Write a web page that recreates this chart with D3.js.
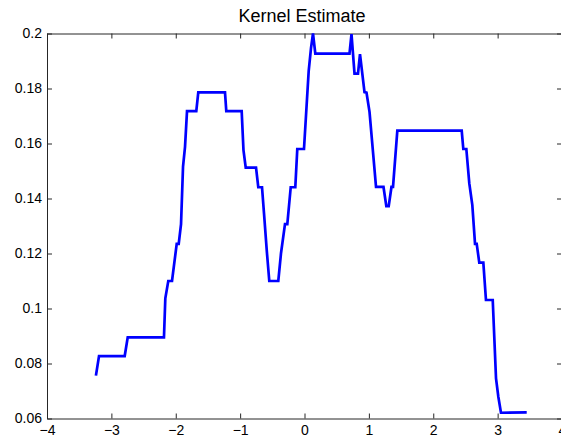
<!DOCTYPE html>
<html>
<head>
<meta charset="utf-8">
<script src="https://cdn.jsdelivr.net/npm/d3@7"></script>
<style>
  body { margin: 0; background: #fff; }
  svg { display: block; font-family: "Liberation Sans", Arial, sans-serif; }
</style>
</head>
<body>
<div id="graph"></div>
<script>
// kernel estimate curve
const xs = [-3.24, -3.192, -2.793, -2.746, -2.183, -2.162, -2.116, -2.058, -1.985, -1.954,
            -1.918, -1.887, -1.856, -1.825, -1.681, -1.650, -1.235, -1.215, -0.976, -0.948,
            -0.913, -0.753, -0.718, -0.660, -0.629, -0.587, -0.547, -0.407, -0.365, -0.303,
            -0.267, -0.214, -0.143, -0.112, -0.008, 0.065, 0.101, 0.132, 0.168, 0.699,
            0.730, 0.777, 0.831, 0.862, 0.932, 0.963, 1.010, 1.111, 1.227, 1.271,
            1.308, 1.351, 1.375, 1.442, 2.442, 2.467, 2.514, 2.560, 2.607, 2.649,
            2.675, 2.715, 2.778, 2.819, 2.924, 2.975, 3.011, 3.052, 3.452];
const ys = [0.0756, 0.0827, 0.0827, 0.0895, 0.0895, 0.1037, 0.1100, 0.1100, 0.1235, 0.1235,
            0.1307, 0.1516, 0.1588, 0.1718, 0.1718, 0.1786, 0.1786, 0.1718, 0.1718, 0.1576,
            0.1512, 0.1512, 0.1441, 0.1441, 0.1346, 0.1213, 0.1100, 0.1100, 0.1201, 0.1307,
            0.1307, 0.1441, 0.1441, 0.1580, 0.1580, 0.1863, 0.1947, 0.2000, 0.1927, 0.1927,
            0.1998, 0.1854, 0.1854, 0.1925, 0.1787, 0.1785, 0.1715, 0.1442, 0.1442, 0.1372,
            0.1372, 0.1442, 0.1442, 0.1647, 0.1647, 0.1580, 0.1580, 0.1455, 0.1376, 0.1235,
            0.1235, 0.1167, 0.1167, 0.1031, 0.1031, 0.0746, 0.0679, 0.0621, 0.0622];

const xTicks = [-4, -3, -2, -1, 0, 1, 2, 3, 4];
const yTicks = [0.06, 0.08, 0.1, 0.12, 0.14, 0.16, 0.18, 0.2];
const yTickLabels = ["0.06", "0.08", "0.1", "0.12", "0.14", "0.16", "0.18", "0.2"];
const title = "Kernel Estimate";

const width = 561;
const height = 441;
const marginLeft = 47;
const marginRight = -1;
const marginTop = 33.5;
const marginBottom = 22.5;

const points = xs.map((x, i) => ({x: x, y: ys[i]}));

const xScale = d3.scaleLinear()
                 .domain([-4, 4])
                 .range([marginLeft, width - marginRight]);

const yScale = d3.scaleLinear()
                 .domain([0.06, 0.2])
                 .range([height - marginBottom, marginTop]);

const svg = d3.create("svg")
              .attr("width", width)
              .attr("height", height);

const axisColor = "#262626";

//bottom axis
svg.append("g")
   .attr("transform", `translate(0, ${height - marginBottom})`)
   .call(d3.axisBottom(xScale).tickValues(xTicks).tickSizeInner(-5).tickSizeOuter(0).tickPadding(7))
   .call(g => g.selectAll("text").attr("font-size", 14).attr("fill", "#000"));

//top axis
svg.append("g")
   .attr("transform", `translate(0, ${marginTop})`)
   .call(d3.axisTop(xScale).tickValues(xTicks).tickSizeInner(-5).tickSizeOuter(0).tickFormat(""));

//left axis
svg.append("g")
   .attr("transform", `translate(${marginLeft}, 0)`)
   .call(d3.axisLeft(yScale).tickValues(yTicks).tickSizeInner(-5).tickSizeOuter(0).tickPadding(5)
           .tickFormat((d, i) => yTickLabels[i]))
   .call(g => g.selectAll("text").attr("font-size", 14).attr("fill", "#000"));

//right axis
svg.append("g")
   .attr("transform", `translate(${width - marginRight}, 0)`)
   .call(d3.axisRight(yScale).tickValues(yTicks).tickSizeInner(-5).tickSizeOuter(0).tickFormat(""));

svg.selectAll(".domain, .tick line").attr("stroke", axisColor);

//curve
const line = d3.line()
               .x(d => xScale(d.x))
               .y(d => yScale(d.y));

svg.append("path")
   .datum(points)
   .attr("d", line)
   .attr("fill", "none")
   .attr("stroke", "#0000ff")
   .attr("stroke-width", 2.7)
   .attr("stroke-linejoin", "miter");

//title
svg.append("text")
   .attr("x", 302)
   .attr("y", 22)
   .attr("text-anchor", "middle")
   .attr("font-size", 18)
   .attr("fill", "#000")
   .text(title);

document.getElementById("graph").append(svg.node());
</script>
</body>
</html>
